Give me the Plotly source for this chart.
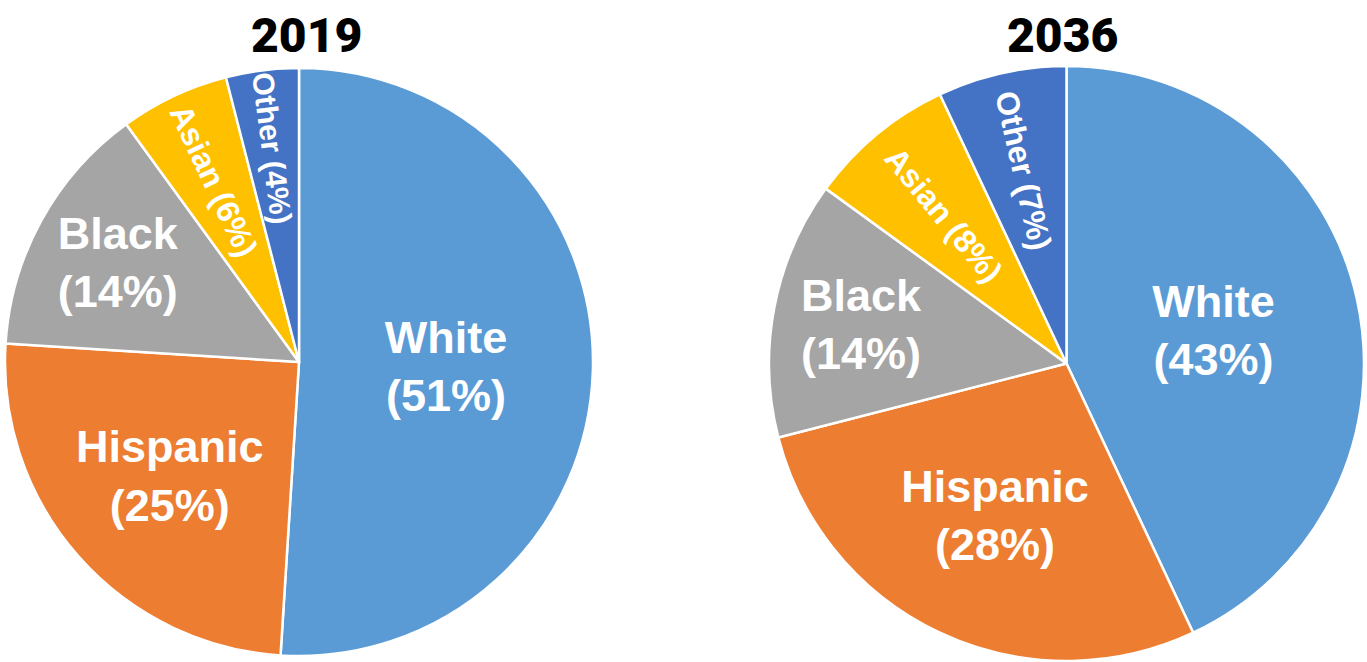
import plotly.graph_objects as go

categories = ["White", "Hispanic", "Black", "Asian", "Other"]
values_2019 = [51, 25, 14, 6, 4]
values_2036 = [43, 28, 14, 8, 7]
years = ["2019", "2036"]
colors = ["#5B9BD5", "#ED7D31", "#A5A5A5", "#FFC000", "#4472C4"]

W, H = 1367, 662


def labels_for(vals):
    return [f"{c}<br>({v}%)" if v >= 10 else f"{c} ({v}%)" for c, v in zip(categories, vals)]


def sizes_for(vals):
    return [45 if v >= 10 else 32 for v in vals]


# pie placement (pixel boxes converted to paper fractions)
boxes = [
    (5, 593, 68, 656),
    (769, 1364, 66, 661),
]

fig = go.Figure()
for vals, (x0, x1, y0, y1) in zip([values_2019, values_2036], boxes):
    fig.add_trace(go.Pie(
        labels=categories,
        values=vals,
        text=labels_for(vals),
        textinfo="text",
        textposition="inside",
        insidetextorientation="auto",
        textfont=dict(family="Liberation Sans, Arial, sans-serif", size=sizes_for(vals),
                      color="white", weight="bold"),
        marker=dict(colors=colors, line=dict(color="white", width=2.5)),
        sort=False,
        direction="clockwise",
        rotation=0,
        hole=0,
        domain=dict(x=[x0 / W, x1 / W], y=[1 - y1 / H, 1 - y0 / H]),
        showlegend=False,
    ))

title_x = [306 / W, 1062 / W]
for yr, tx in zip(years, title_x):
    fig.add_annotation(
        text=yr, x=tx, y=1 - 36 / H, xref="paper", yref="paper",
        xanchor="center", yanchor="middle", showarrow=False,
        font=dict(family="Roboto, Inter, sans-serif", size=48, color="black", weight=900),
    )

fig.update_layout(
    width=W, height=H,
    margin=dict(l=0, r=0, t=0, b=0),
    paper_bgcolor="white",
    plot_bgcolor="white",
)

fig.write_html("out.html", config={"displayModeBar": False},
               post_script="document.body.style.margin='0';")
